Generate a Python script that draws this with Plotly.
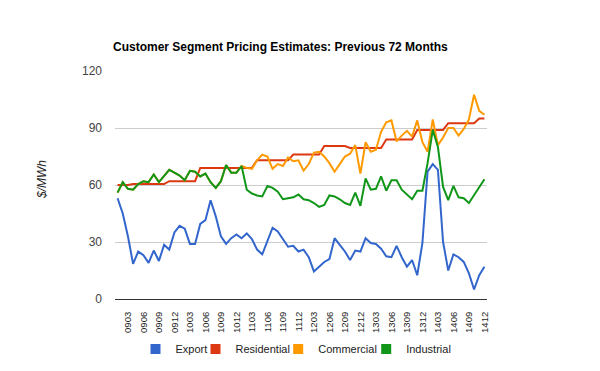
import plotly.graph_objects as go

months = [
    "0901", "0902", "0903", "0904", "0905", "0906", "0907", "0908", "0909", "0910", "0911", "0912",
    "1001", "1002", "1003", "1004", "1005", "1006", "1007", "1008", "1009", "1010", "1011", "1012",
    "1101", "1102", "1103", "1104", "1105", "1106", "1107", "1108", "1109", "1110", "1111", "1112",
    "1201", "1202", "1203", "1204", "1205", "1206", "1207", "1208", "1209", "1210", "1211", "1212",
    "1301", "1302", "1303", "1304", "1305", "1306", "1307", "1308", "1309", "1310", "1311", "1312",
    "1401", "1402", "1403", "1404", "1405", "1406", "1407", "1408", "1409", "1410", "1411", "1412",
]

tick_labels = ["0903", "0906", "0909", "0912", "1003", "1006", "1009", "1012",
               "1103", "1106", "1109", "1112", "1203", "1206", "1209", "1212",
               "1303", "1306", "1309", "1312", "1403", "1406", "1409", "1412"]

export = [53, 45, 33, 18.5, 25, 23, 19, 25.5, 20, 28.5,
          26, 35, 38.5, 37, 29, 29, 39.5, 41.5, 52, 43.5,
          33, 29, 32, 34, 32, 34.5, 31.5, 26, 23.5, 30,
          37.5, 35.5, 31.5, 27.5, 28, 25, 26, 22, 14.5, 17,
          19.5, 21, 32, 28.5, 25, 20.5, 25.5, 25, 32, 29.5,
          29, 26.5, 22.5, 22, 28, 22, 17, 20.5, 12.5, 29.5,
          67, 71, 68, 30, 15, 23.5, 22, 19.5, 13.5, 5,
          12.5, 17]

residential = [60, 60, 60, 60.5, 60.5, 60.5, 60.5, 60.5, 60.5, 60.5,
               62, 62, 62, 62, 62, 62, 69, 69, 69, 69,
               69, 69, 69, 69, 69, 69, 69, 73, 73, 73,
               73, 73, 73, 73, 76, 76, 76, 76, 76, 76,
               80.5, 80.5, 80.5, 80.5, 80.5, 79.5, 79.5, 79.5, 79.5, 79.5,
               79.5, 79.5, 84, 84, 84, 84, 84, 84, 89, 89,
               89, 89, 89, 89, 92.5, 92.5, 92.5, 92.5, 92.5, 92.5,
               95, 95]

commercial = [56, 61.5, 58, 57.5, 60.5, 62, 61.5, 65.5, 61.5, 64.5,
              68, 66.5, 65, 62.5, 67.5, 67, 64.5, 66, 61.5, 58.5,
              62, 70.5, 66.5, 66.5, 70, 69, 68.5, 73, 76, 75,
              68.5, 71, 70, 74.5, 72.5, 73, 67.5, 71, 77, 77.5,
              75, 71.5, 67, 71, 75, 76.5, 81, 66, 82.5, 77.5,
              78.5, 88, 93, 94, 83, 86, 88.5, 85.5, 94, 82.5,
              77.5, 94.5, 81, 85, 90, 90, 86, 89.5, 94.5, 107.5,
              99, 97]

industrial = [56, 61.5, 58, 57.5, 60.5, 62, 61.5, 65.5, 61.5, 64.5,
              68, 66.5, 65, 62.5, 67.5, 67, 64.5, 66, 61.5, 58.5,
              62, 70.5, 66.5, 66.5, 70, 57.5, 55.5, 54.5, 54, 59.5,
              58.5, 56.5, 52.5, 53, 53.5, 55, 52.5, 52, 50.5, 48.5,
              49.5, 54.5, 54, 52.5, 50.5, 49.5, 56, 49, 63.5, 57.5,
              58, 64.5, 57, 62.5, 62.5, 57.5, 55, 52.5, 57, 57,
              71.5, 89, 80, 59, 52, 59.5, 53.5, 53, 50.5, 54.5,
              58.5, 63]

series_names = ["Export", "Residential", "Commercial", "Industrial"]
series_values = [export, residential, commercial, industrial]
colors = ["#3366cc", "#dc3912", "#ff9900", "#109618"]

FONT = "Liberation Sans, Arial, sans-serif"

# layout geometry (figure pixels; page has an 8px body offset)
ML, MT, PW, PH = 107, 63, 372, 228
W, H = 600, 371

# legend swatch centres in the page (px) for each series
legend_square_x = [161, 221, 303.7, 391.7]
legend_center_y = 349

fig = go.Figure()
for name, vals, col in zip(series_names, series_values, colors):
    fig.add_trace(go.Scatter(x=months, y=vals, mode="lines", name=name,
                             line=dict(color=col, width=2), showlegend=False))

legend_layouts = {}
for k, (name, col, sx) in enumerate(zip(series_names, colors, legend_square_x)):
    lname = "legend" if k == 0 else f"legend{k + 1}"
    fig.add_trace(go.Scatter(x=[None], y=[None], mode="markers", name=name,
                             marker=dict(symbol="square", size=10, color=col),
                             showlegend=True, legend=lname))
    lx = (sx - 8 - 25.5 - ML) / PW
    ly = (MT + PH - (legend_center_y - 8)) / PH
    legend_layouts[lname] = dict(orientation="h", x=lx, xanchor="left", y=ly,
                                 yanchor="middle", itemwidth=30,
                                 font=dict(family=FONT, size=11, color="#222222"),
                                 bgcolor="rgba(0,0,0,0)")

fig.update_layout(
    width=W, height=H,
    margin=dict(l=ML, r=W - ML - PW, t=MT, b=H - MT - PH),
    paper_bgcolor="white", plot_bgcolor="white",
    font=dict(family=FONT, color="#222222"),
    title=dict(text="<b>Customer Segment Pricing Estimates: Previous 72 Months</b>",
               x=105 / W, xanchor="left", xref="container",
               y=1 - 38.5 / H, yanchor="middle", yref="container",
               font=dict(family=FONT, size=12, color="#000000")),
    showlegend=True,
    xaxis=dict(type="category", categoryorder="array", categoryarray=months,
               range=[-0.5, 71.5], tickmode="array", tickvals=tick_labels,
               ticktext=tick_labels, tickangle=-90, showgrid=False,
               tickfont=dict(family=FONT, size=9.5, color="#222222"),
               showline=True, linecolor="#333333", linewidth=1,
               ticks="", ticklabelstandoff=8, zeroline=False, fixedrange=True,
               automargin=False),
    yaxis=dict(range=[0, 120], tickvals=[0, 30, 60, 90, 120], showgrid=True,
               gridcolor="#cccccc", gridwidth=1, zeroline=False,
               tickfont=dict(family=FONT, size=12, color="#444444"),
               ticks="", ticklabelstandoff=12, fixedrange=True, automargin=False),
    annotations=[dict(text="<i>$/MWh</i>", textangle=-90, xref="paper", yref="paper",
                      x=(42 - 8 - ML) / PW, y=(MT + PH - (180 - 8)) / PH,
                      xanchor="center", yanchor="middle", showarrow=False,
                      font=dict(family=FONT, size=12, color="#222222"))],
    **legend_layouts,
)

fig.write_html("out.html")
